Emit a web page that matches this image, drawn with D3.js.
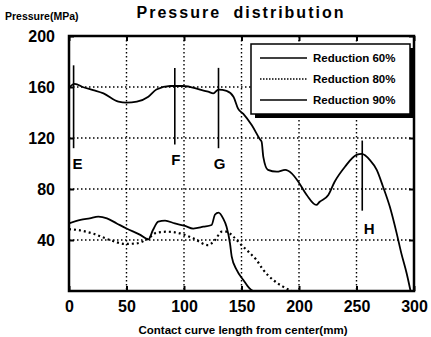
<!DOCTYPE html>
<html>
<head>
<meta charset="utf-8">
<script src="https://cdn.jsdelivr.net/npm/d3@7"></script>
<style>
  body { margin: 0; background: white; }
  svg { display: block; font-family: "Liberation Sans", Arial, sans-serif; }
</style>
</head>
<body>
<svg id="chart" width="431" height="337"></svg>
<script>
// data: [contact length (mm), pressure (MPa)]
const xTicks = [0, 50, 100, 150, 200, 250, 300];
const yTicks = [40, 80, 120, 160, 200];

const reduction60 = [
    [0, 53], [10, 55.7], [18, 57], [25.5, 58.3], [33, 57], [41.5, 53], [50, 49],
    [62, 44], [69, 40.5], [73, 47.8], [77.6, 54.4], [83.5, 55.2], [92, 53],
    [101, 51], [108, 49], [116.8, 50.4], [124, 51.8], [127, 60], [130, 61.5],
    [134, 57], [137, 50.4], [140, 37.4], [141.5, 27], [145.8, 16.5], [151.6, 8.6],
    [157, 2], [160, 0]
];
const reduction80 = [
    [0, 48.5], [8, 47.8], [21, 45], [35.6, 40], [48.7, 36.9], [59, 37.4], [69, 41.3],
    [76, 45.7], [85, 46.5], [96.5, 45.2], [108, 41.3], [121, 36], [127, 40],
    [132.8, 46.5], [137, 46.5], [143, 42.6], [150, 36], [157, 30], [163, 24.3],
    [169, 16.5], [177.6, 8.6], [186, 3.4], [193.6, 0]
];
const reduction90 = [
    [0, 159.5], [5, 162.4], [12.5, 159.8], [21, 157.6], [30, 155], [43, 148.5],
    [50, 147.7], [59, 148.5], [69, 152.4], [76, 158], [88, 160.8], [99, 160.8],
    [114, 158], [121, 156.3], [125.5, 155], [130, 158], [137, 157], [143, 152.4],
    [147, 143], [151.6, 139], [159, 130], [166, 119], [167.5, 117], [169, 105],
    [173, 95], [180.6, 93.6], [188, 95], [193.6, 92.3], [199.4, 85.7],
    [206.7, 75.3], [215, 67.5], [218, 70], [225.5, 75.3], [231, 85.7], [240, 97.5],
    [250, 106.7], [254.5, 107.5], [261.7, 102.7], [267.6, 95], [273, 82], [279, 66],
    [285, 45], [289, 29.5], [293.6, 13.9], [297, 0]
];

const seriesNames = ["Reduction 60%", "Reduction 80%", "Reduction 90%"];
const seriesData = [reduction60, reduction80, reduction90];
const seriesDash = [null, "2,3", null];

// section markers E-H: position and vertical extent in MPa
const markerLabels = ["E", "F", "G", "H"];
const markerX = [4, 92, 130, 255];
const markerTop = [177, 175, 175, 118];
const markerBottom = [112, 115, 112, 63];

var dimensions = {
    width: 431,
    height: 337,
    margin: { top: 36, bottom: 46, right: 17, left: 69 }
};

var svg = d3.select("#chart");

var xScale = d3.scaleLinear()
    .domain([0, 300])
    .range([dimensions.margin.left, dimensions.width - dimensions.margin.right]);

var yScale = d3.scaleLinear()
    .domain([0, 200])
    .range([dimensions.height - dimensions.margin.bottom, dimensions.margin.top]);

var x0 = xScale(0), x1 = xScale(300), y0 = yScale(0), y1 = yScale(200);

svg.append("clipPath").attr("id", "plot-clip")
    .append("rect")
    .attr("x", x0).attr("y", y1)
    .attr("width", x1 - x0).attr("height", y0 - y1);

// dotted grid
svg.append("g").selectAll("line")
    .data(xTicks.filter(d => d > 0 && d < 300))
    .enter().append("line")
    .attr("x1", d => xScale(d)).attr("x2", d => xScale(d))
    .attr("y1", y1).attr("y2", y0)
    .attr("stroke", "black").attr("stroke-width", 1.4)
    .attr("stroke-dasharray", "1.5,2.5");

svg.append("g").selectAll("line")
    .data(yTicks.filter(d => d < 200))
    .enter().append("line")
    .attr("x1", x0).attr("x2", x1)
    .attr("y1", d => yScale(d)).attr("y2", d => yScale(d))
    .attr("stroke", "black").attr("stroke-width", 1.4)
    .attr("stroke-dasharray", "1.5,2.5");

// axes with inward ticks
svg.append("g")
    .attr("transform", `translate(${x0},0)`)
    .call(d3.axisLeft(yScale).tickValues(yTicks).tickSize(-5).tickPadding(14));

svg.append("g")
    .attr("transform", `translate(0,${y0})`)
    .call(d3.axisBottom(xScale).tickValues(xTicks).tickSize(-5).tickPadding(10));

svg.append("g")
    .attr("transform", `translate(${x1},0)`)
    .call(d3.axisRight(yScale).tickValues(yTicks).tickSize(-5).tickFormat(""));

svg.append("g")
    .attr("transform", `translate(0,${y1})`)
    .call(d3.axisTop(xScale).tickValues(xTicks).tickSize(-5).tickFormat(""));

svg.selectAll(".domain").remove();
svg.selectAll(".tick line").attr("stroke", "black").attr("stroke-width", 2);
svg.selectAll(".tick text")
    .attr("fill", "black")
    .style("font-size", "16px")
    .style("font-weight", "bold");

// curves
var line = d3.line()
    .x(d => xScale(d[0]))
    .y(d => yScale(d[1]))
    .curve(d3.curveMonotoneX);

svg.append("g").attr("clip-path", "url(#plot-clip)")
    .selectAll("path")
    .data(seriesData)
    .enter().append("path")
    .attr("d", d => line(d))
    .attr("fill", "none")
    .attr("stroke", "black")
    .attr("stroke-width", (d, i) => seriesDash[i] ? 2.2 : 1.8)
    .attr("stroke-dasharray", (d, i) => seriesDash[i]);

// markers
var markers = svg.append("g").selectAll("g")
    .data(markerLabels)
    .enter().append("g");

markers.append("line")
    .attr("x1", (d, i) => xScale(markerX[i])).attr("x2", (d, i) => xScale(markerX[i]))
    .attr("y1", (d, i) => yScale(markerTop[i])).attr("y2", (d, i) => yScale(markerBottom[i]))
    .attr("stroke", "black").attr("stroke-width", 1.6);

markers.append("text")
    .attr("x", (d, i) => xScale(markerX[i]) + (i === 0 ? 4 : i === 3 ? 7 : 1))
    .attr("y", (d, i) => yScale(markerBottom[i]) + (i === 3 ? 23 : 21))
    .attr("text-anchor", "middle")
    .style("font-size", "15px")
    .style("font-weight", "bold")
    .text(d => d);

// frame
svg.append("rect")
    .attr("x", x0).attr("y", y1)
    .attr("width", x1 - x0).attr("height", y0 - y1)
    .attr("fill", "none").attr("stroke", "black").attr("stroke-width", 2.5);

// legend
var legendBox = { x: 251, y: 44, w: 159, h: 70 };
svg.append("rect")
    .attr("x", legendBox.x + 4).attr("y", legendBox.y + 4)
    .attr("width", legendBox.w).attr("height", legendBox.h)
    .attr("fill", "black");
svg.append("rect")
    .attr("x", legendBox.x).attr("y", legendBox.y)
    .attr("width", legendBox.w).attr("height", legendBox.h)
    .attr("fill", "white").attr("stroke", "black").attr("stroke-width", 1.5);

var legend = svg.selectAll(".legend")
    .data(seriesNames)
    .enter().append("g")
    .attr("class", "legend")
    .attr("transform", (d, i) => `translate(0,${58 + i * 21})`);

legend.append("line")
    .attr("x1", 260).attr("x2", 307)
    .attr("stroke", "black")
    .attr("stroke-width", 1.6)
    .attr("stroke-dasharray", (d, i) => seriesDash[i] ? "1.5,1.5" : null);

legend.append("text")
    .attr("x", 313)
    .attr("dy", ".35em")
    .style("font-size", "11.5px")
    .style("font-weight", "bold")
    .text(d => d);

// titles
svg.append("text")
    .attr("x", 241).attr("y", 18)
    .attr("text-anchor", "middle")
    .style("font-size", "16px")
    .style("font-weight", "bold")
    .style("letter-spacing", "2px")
    .style("word-spacing", "6px")
    .text("Pressure distribution");

svg.append("text")
    .attr("x", 5).attr("y", 20)
    .style("font-size", "10.5px")
    .style("font-weight", "bold")
    .text("Pressure(MPa)");

svg.append("text")
    .attr("x", 243).attr("y", 334)
    .attr("text-anchor", "middle")
    .style("font-size", "11.5px")
    .style("font-weight", "bold")
    .text("Contact curve length from center(mm)");
</script>
</body>
</html>
